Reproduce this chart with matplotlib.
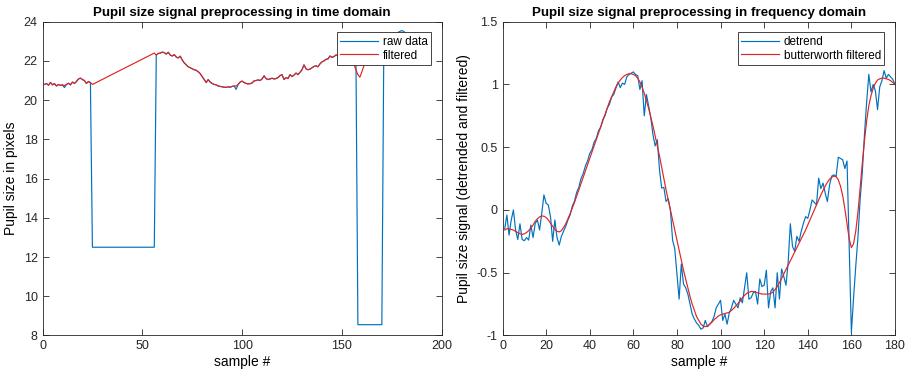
import matplotlib
matplotlib.use("Agg")
import matplotlib.pyplot as plt
import numpy as np
from matplotlib.ticker import FuncFormatter

plt.rcParams["font.family"] = ["Liberation Sans", "DejaVu Sans"]

# ---- time domain (left) ----
raw_left = [
    # 1-24
    20.80, 20.85, 20.76, 20.90, 20.78, 20.84, 20.72, 20.80, 20.75, 20.78,
    20.64, 20.80, 20.86, 20.78, 20.92, 20.85, 20.95, 21.08, 21.12, 21.05,
    21.00, 20.85, 20.95, 20.90,
    # 25-56 (blink 1)
    12.5, 12.5, 12.5, 12.5, 12.5, 12.5, 12.5, 12.5, 12.5, 12.5,
    12.5, 12.5, 12.5, 12.5, 12.5, 12.5, 12.5, 12.5, 12.5, 12.5,
    12.5, 12.5, 12.5, 12.5, 12.5, 12.5, 12.5, 12.5, 12.5, 12.5,
    12.5, 12.5,
    # 57-157
    22.30, 22.38, 22.40, 22.45, 22.42, 22.35, 22.44, 22.30, 22.25, 22.32,
    22.20, 22.15, 22.24, 22.05, 21.90, 21.80, 21.70, 21.65, 21.60, 21.55,
    21.52, 21.45, 21.35, 21.20, 21.05, 20.90, 21.05, 20.92, 20.85, 20.80,
    20.78, 20.72, 20.70, 20.68, 20.66, 20.65, 20.68, 20.66, 20.70, 20.72,
    20.55, 20.80, 20.92, 20.97, 20.90, 20.85, 20.83, 20.84, 20.88, 20.98,
    21.00, 21.03, 21.00, 21.08, 21.24, 21.10, 21.05, 21.08, 21.12, 21.08,
    21.10, 21.15, 21.25, 21.30, 21.05, 21.15, 21.10, 21.30, 21.20, 21.28,
    21.38, 21.30, 21.42, 21.55, 21.80, 21.60, 21.55, 21.58, 21.65, 21.72,
    21.75, 21.70, 21.85, 21.95, 22.00, 22.08, 22.10, 22.25, 22.18, 22.22,
    22.30, 22.28, 22.35, 22.30, 22.38, 22.40, 22.45, 22.50, 22.55, 22.50,
    22.45,
    # 158-170 (blink 2)
    8.55, 8.55, 8.55, 8.55, 8.55, 8.55, 8.55, 8.55, 8.55, 8.55,
    8.55, 8.55, 8.55,
    # 171-182
    23.00, 23.10, 23.20, 23.30, 23.35, 23.40, 23.35, 23.45, 23.50, 23.55,
    23.50, 23.40,
]

filt_samples = list(range(1, 26)) + list(range(54, 178))
filt_left = [
    # 1-25
    20.80, 20.85, 20.76, 20.90, 20.78, 20.84, 20.72, 20.80, 20.75, 20.78,
    20.74, 20.80, 20.86, 20.78, 20.92, 20.85, 20.95, 21.08, 21.12, 21.05,
    21.00, 20.85, 20.95, 20.90, 20.80,
    # 54-152
    22.30, 22.35, 22.40,
    22.30, 22.38, 22.40, 22.45, 22.42, 22.35, 22.44, 22.30, 22.25, 22.32,
    22.20, 22.15, 22.24, 22.05, 21.90, 21.80, 21.70, 21.65, 21.60, 21.55,
    21.52, 21.45, 21.35, 21.20, 21.05, 20.90, 21.05, 20.92, 20.85, 20.80,
    20.78, 20.72, 20.70, 20.68, 20.66, 20.65, 20.68, 20.66, 20.70, 20.72,
    20.72, 20.80, 20.92, 20.97, 20.90, 20.85, 20.83, 20.84, 20.88, 20.98,
    21.00, 21.03, 21.00, 21.08, 21.24, 21.10, 21.05, 21.08, 21.12, 21.08,
    21.10, 21.15, 21.25, 21.30, 21.05, 21.15, 21.10, 21.30, 21.20, 21.28,
    21.38, 21.30, 21.42, 21.55, 21.80, 21.60, 21.55, 21.58, 21.65, 21.72,
    21.75, 21.70, 21.85, 21.95, 22.00, 22.08, 22.10, 22.25, 22.18, 22.22,
    22.30, 22.28, 22.35, 22.30, 22.38, 22.40,
    # 153-177
    22.40, 22.35, 22.15, 21.85, 21.55, 21.30, 21.17, 21.45, 21.75, 22.05,
    22.35, 22.60, 22.80, 22.95, 23.05, 23.15, 23.20, 23.25, 23.30, 23.32,
    23.35, 23.40, 23.38, 23.42, 23.40,
]

# ---- frequency domain (right) ----
detrend = [
    -0.15, -0.04, -0.20, -0.08, 0.00, -0.16, -0.235, -0.11, -0.235, -0.245,
    -0.22, -0.24, -0.12, -0.22, -0.107, -0.08, -0.16, -0.027, 0.12, 0.053,
    0.04, -0.053, -0.25, -0.08, -0.22, -0.28, -0.21, -0.17, -0.13, -0.08,
    -0.04, 0.03, 0.07, 0.14, 0.18, 0.25, 0.29, 0.35, 0.39, 0.45,
    0.48, 0.54, 0.57, 0.63, 0.66, 0.72, 0.75, 0.81, 0.84, 0.90,
    0.92, 0.97, 1.02, 0.975, 1.01, 1.00, 1.06, 1.08, 1.09, 1.10,
    1.08, 1.07, 0.96, 1.03, 0.75, 0.92, 0.83, 0.735, 0.60, 0.51,
    0.56, 0.32, 0.174, 0.18, 0.067, 0.09, 0.00, -0.24, -0.31, -0.51,
    -0.71, -0.43, -0.59, -0.62, -0.67, -0.75, -0.83, -0.87, -0.90, -0.92,
    -0.95, -0.94, -0.88, -0.93, -0.91, -0.89, -0.85, -0.78, -0.75, -0.72,
    -0.88, -0.83, -0.91, -0.82, -0.78, -0.72, -0.75, -0.78, -0.70, -0.74,
    -0.62, -0.50, -0.71, -0.70, -0.66, -0.65, -0.75, -0.55, -0.61, -0.60,
    -0.48, -0.78, -0.65, -0.62, -0.78, -0.50, -0.71, -0.47, -0.53, -0.60,
    -0.42, -0.11, -0.29, -0.33, -0.21, -0.25, -0.17, -0.107, -0.053, -0.067,
    0.00, 0.08, 0.06, 0.04, 0.254, 0.17, 0.214, 0.134, 0.067, 0.20,
    0.27, 0.28, 0.267, 0.42, 0.41, 0.40, 0.33, 0.39, -0.30, -0.976,
    -0.70, -0.45, -0.22, 0.08, 0.30, 0.60, 0.86, 1.08, 0.94, 1.00,
    0.95, 0.80, 0.98, 1.03, 1.11, 1.05, 1.08, 1.06, 1.04, 1.00,
]

butter = [
    -0.16, -0.15, -0.15, -0.155, -0.16, -0.17, -0.18, -0.19, -0.195, -0.19,
    -0.18, -0.165, -0.145, -0.12, -0.09, -0.07, -0.055, -0.048, -0.05, -0.06,
    -0.08, -0.105, -0.13, -0.155, -0.17, -0.175, -0.165, -0.14, -0.11, -0.07,
    -0.03, 0.015, 0.06, 0.11, 0.16, 0.21, 0.26, 0.31, 0.36, 0.41,
    0.46, 0.51, 0.56, 0.61, 0.66, 0.71, 0.76, 0.81, 0.86, 0.90,
    0.94, 0.98, 1.01, 1.035, 1.055, 1.07, 1.08, 1.085, 1.085, 1.08,
    1.07, 1.05, 1.02, 0.98, 0.93, 0.87, 0.81, 0.74, 0.67, 0.59,
    0.51, 0.43, 0.34, 0.25, 0.16, 0.08, 0.00, -0.08, -0.16, -0.24,
    -0.32, -0.40, -0.48, -0.55, -0.62, -0.69, -0.75, -0.80, -0.85, -0.88,
    -0.91, -0.925, -0.93, -0.925, -0.91, -0.895, -0.875, -0.86, -0.845, -0.835,
    -0.83, -0.825, -0.82, -0.815, -0.80, -0.785, -0.765, -0.745, -0.725, -0.70,
    -0.68, -0.665, -0.655, -0.65, -0.65, -0.655, -0.66, -0.665, -0.67, -0.67,
    -0.67, -0.67, -0.665, -0.655, -0.635, -0.61, -0.58, -0.545, -0.51, -0.475,
    -0.44, -0.405, -0.37, -0.335, -0.30, -0.265, -0.23, -0.195, -0.16, -0.12,
    -0.08, -0.04, 0.00, 0.04, 0.08, 0.12, 0.155, 0.19, 0.22, 0.245,
    0.26, 0.27, 0.265, 0.24, 0.19, 0.115, 0.01, -0.11, -0.23, -0.30,
    -0.27, -0.17, -0.02, 0.17, 0.37, 0.55, 0.71, 0.83, 0.91, 0.97,
    1.01, 1.035, 1.045, 1.05, 1.05, 1.045, 1.04, 1.03, 1.015, 1.00,
]

BLUE = "#0072BD"
RED = "#E02424"


def style_axes(ax):
    for s in ax.spines.values():
        s.set_linewidth(0.6)
        s.set_color("#262626")
    ax.tick_params(direction="in", length=4, width=0.6, top=True, right=True,
                   labelsize=9, colors="#262626")


def add_legend(ax):
    leg = ax.legend(loc="upper right", fontsize=8.5, fancybox=False,
                    edgecolor="#262626", framealpha=1, borderaxespad=0.9,
                    handlelength=3.2, handletextpad=0.4, borderpad=0.3,
                    labelspacing=0.15)
    leg.get_frame().set_linewidth(0.6)


fig = plt.figure(figsize=(9.14, 3.74), dpi=100)
ax1 = fig.add_axes([0.0465, 0.103, 0.4368, 0.839])
ax2 = fig.add_axes([0.5498, 0.103, 0.4294, 0.839])

x_left = np.arange(1, len(raw_left) + 1)
ax1.plot(x_left, raw_left, color=BLUE, lw=0.85, label="raw data")
ax1.plot(filt_samples, filt_left, color=RED, lw=0.85, label="filtered")
ax1.set_xlim(0, 200)
ax1.set_ylim(8, 24)
ax1.set_xticks(range(0, 201, 50))
ax1.set_yticks(range(8, 25, 2))
ax1.set_xlabel("sample #", fontsize=10, labelpad=2)
ax1.set_ylabel("Pupil size in pixels", fontsize=10, labelpad=4)
ax1.set_title("Pupil size signal preprocessing in time domain",
              fontsize=9.6, fontweight="bold", pad=4)
style_axes(ax1)
add_legend(ax1)

x_right = np.arange(1, len(detrend) + 1)
ax2.plot(x_right, detrend, color=BLUE, lw=0.85, label="detrend")
ax2.plot(x_right, butter, color=RED, lw=0.85, label="butterworth filtered")
ax2.set_xlim(0, 180)
ax2.set_ylim(-1, 1.5)
ax2.set_xticks(range(0, 181, 20))
ax2.set_yticks([-1, -0.5, 0, 0.5, 1, 1.5])
ax2.yaxis.set_major_formatter(FuncFormatter(lambda v, p: "%g" % v))
ax2.set_xlabel("sample #", fontsize=10, labelpad=2)
ax2.set_ylabel("Pupil size signal (detrended and filtered)", fontsize=10,
               labelpad=4)
ax2.set_title("Pupil size signal preprocessing in frequency domain",
              fontsize=9.6, fontweight="bold", pad=4)
style_axes(ax2)
add_legend(ax2)

fig.savefig("out.png", dpi=100)
